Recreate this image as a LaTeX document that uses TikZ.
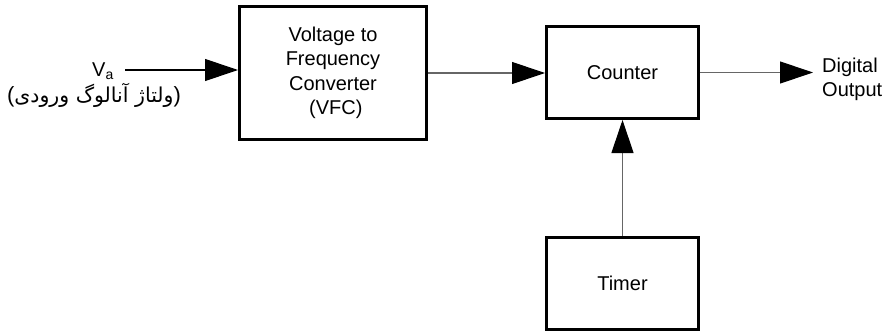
\documentclass[tikz,border=0pt]{standalone}
\usepackage{fontspec}
\setmainfont{Liberation Sans}
\newfontfamily\arabicfont[Script=Arabic]{DejaVu Sans}
\TeXXeTstate=1
\usetikzlibrary{arrows.meta}
\begin{document}
\begin{tikzpicture}[x=1pt,y=-1pt,
  blockbox/.style={draw=black,line width=3pt,minimum width=#1,inner sep=0pt,align=center,
    font=\fontsize{20}{24.5}\selectfont},
  conn/.style={draw=black!60,line width=1.1pt,-{Triangle[length=33pt,width=22pt,color=black]}},
  lbl/.style={inner sep=0pt,font=\fontsize{20}{24.5}\selectfont}]
\useasboundingbox (0,0) rectangle (886,332);
\node[blockbox=187pt,minimum height=133pt] (VFC) at (333,73) {Voltage to\\Frequency\\Converter\\\ (VFC)};
\node[blockbox=152pt,minimum height=92pt] (Counter) at (622.5,72.5) {Counter};
\node[blockbox=152pt,minimum height=92pt] (Timer) at (622.5,283.5) {Timer};
\node[lbl,anchor=base] (Va) at (103,76) {V\textsubscript{a}};
\node[lbl,font=\fontsize{22}{26}\selectfont] (fa) at (94,95) {({\arabicfont\fontsize{20.5}{24}\selectfont\beginR ولتاژ آنالوگ ورودی\endR})};
\node[lbl,align=left,anchor=west] (out) at (822,79.5) {Digital\\Output};
\coordinate (vin) at (125,70);
\coordinate (dout) at (813,73);
\draw[conn,draw=black] (vin) -- (vin -| VFC.west);
\draw[conn] (VFC.east) -- (VFC.east -| Counter.west);
\draw[conn] (Counter.east) -- (Counter.east -| dout);
\draw[conn] (Timer.north) -- (Counter.south);
\end{tikzpicture}
\end{document}
